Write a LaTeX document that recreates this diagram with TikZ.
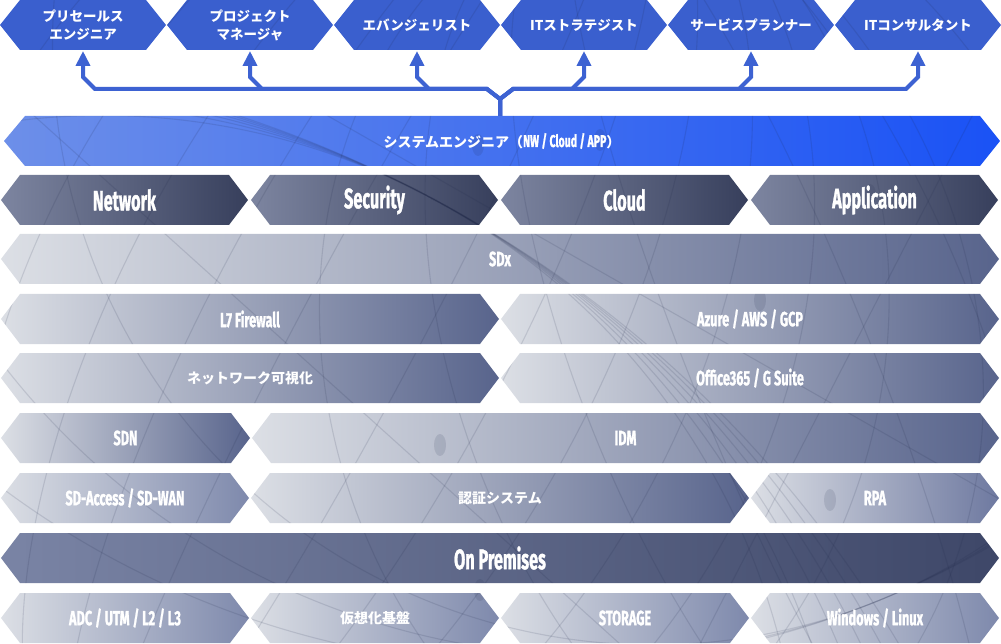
\documentclass[tikz,border=0pt]{standalone}
\usepackage{fontspec}
\usetikzlibrary{arrows.meta}
\newfontfamily\jp{Noto Sans CJK JP}
\newfontfamily\cond{Fira Sans}[BoldFeatures={FakeBold=1.6}]
\definecolor{topblue}{HTML}{3A5FCE}
\definecolor{arrowblue}{HTML}{3D62D2}
\definecolor{seL}{HTML}{6D8FE9}
\definecolor{seR}{HTML}{1A52F5}
\definecolor{catL}{HTML}{7D85A0}
\definecolor{catR}{HTML}{373F5C}
\definecolor{lt}{HTML}{DCDFE5}
\definecolor{dkA}{HTML}{58648C}
\definecolor{dkB}{HTML}{6E79A0}
\definecolor{dkC}{HTML}{7E89AC}
\definecolor{opL}{HTML}{7A84A5}
\definecolor{opR}{HTML}{3E4768}
\definecolor{patc}{HTML}{1C2546}
\pgfdeclarelayer{back}
\pgfdeclarelayer{mid}
\pgfsetlayers{back,mid,main}
\newcommand\hdtxt[1]{\scalebox{0.58}[1]{\cond\bfseries\fontsize{28}{30}\selectfont #1}}
\newcommand\smtxt[1]{\scalebox{0.62}[1]{\cond\bfseries\fontsize{20.5}{22}\selectfont #1}}
\newcommand\jptxt[1]{{\jp\bfseries\fontsize{14}{16}\selectfont #1}}
% hexagon outline: x1, x2, ytop, depth
\newcommand\hx[4]{(#1,#3+25) -- (#1+#4,#3) -- (#2-#4,#3) -- (#2,#3+25) -- (#2-#4,#3+50) -- (#1+#4,#3+50) -- cycle}
% top hexagon: name, x1, x2, text
\newcommand\tophex[4]{%
  \begin{pgfonlayer}{back}\fill[topblue] \hx{#2}{#3}{0}{20};\end{pgfonlayer}
  \node[toplab] (#1) at ({(#2+#3)/2},25) {#4};}
% row hexagon: name, x1, x2, ytop, left colour, right colour, text
\newcommand\rowhex[7]{%
  \begin{pgfonlayer}{back}\shade[left color=#5,right color=#6] \hx{#2}{#3}{#4}{19};\end{pgfonlayer}
  \node[lab] (#1) at ({(#2+#3)/2},#4+25) {#7};}
\begin{document}
\begin{tikzpicture}[x=1pt,y=-1pt,
  toplab/.style={text=white,font=\jp\bfseries\fontsize{13.5}{18}\selectfont,align=center,inner sep=0pt},
  lab/.style={text=white,inner sep=0pt},
  bus/.style={draw=arrowblue,line width=4pt,line join=miter},
  tip/.style={-{Triangle[width=14pt,length=15pt]}},
  pat/.style={draw=patc,draw opacity=0.13,line width=1.1pt}]
\useasboundingbox (0,0) rectangle (1001,644);
% top boxes
\tophex{t1}{0}{166}{プリセールス\\エンジニア}
\tophex{t2}{167}{333}{プロジェクト\\マネージャ}
\tophex{t3}{334}{500}{エバンジェリスト}
\tophex{t4}{501}{667}{ITストラテジスト}
\tophex{t5}{668}{834}{サービスプランナー}
\tophex{t6}{835}{1001}{ITコンサルタント}
% system engineer bar
\begin{pgfonlayer}{back}
\shade[left color=seL,right color=seR] (4,141) -- (25,116) -- (980,116) -- (1000,141) -- (980,166) -- (25,166) -- cycle;
\end{pgfonlayer}
\node[lab] (se) at (502,141) {\jptxt{\fontsize{14}{16}\selectfont システムエンジニア（}\raisebox{0.3pt}{\scalebox{0.62}[1]{\cond\bfseries\fontsize{17}{18}\selectfont NW / Cloud / APP}}\jptxt{\fontsize{14}{16}\selectfont ）}};
\coordinate (hub) at (500,116);
% connectors
\draw[bus,tip] (hub) -- (500,99) -- (487,89) -- (95,89) -- (83,77) -- (t1.center |- 0,51);
\draw[bus,tip] (hub) -- (500,99) -- (487,89) -- (262,89) -- (250,77) -- (t2.center |- 0,51);
\draw[bus,tip] (hub) -- (500,99) -- (487,89) -- (429,89) -- (417,77) -- (t3.center |- 0,51);
\draw[bus,tip] (hub) -- (500,99) -- (513,89) -- (572,89) -- (584,77) -- (t4.center |- 0,51);
\draw[bus,tip] (hub) -- (500,99) -- (513,89) -- (739,89) -- (751,77) -- (t5.center |- 0,51);
\draw[bus,tip] (hub) -- (500,99) -- (513,89) -- (906,89) -- (918,77) -- (t6.center |- 0,51);
% categories
\rowhex{nw}{1}{248}{175}{catL}{catR}{\hdtxt{Network}}
\rowhex{sec}{251}{498}{175}{catL}{catR}{\hdtxt{Security}}
\rowhex{cl}{501}{748}{175}{catL}{catR}{\hdtxt{Cloud}}
\rowhex{app}{751}{998}{175}{catL}{catR}{\hdtxt{Application}}
% rows
\rowhex{sdx}{1}{999}{234}{lt}{dkA}{\smtxt{SDx}}
\rowhex{l7}{1}{499}{294}{lt}{dkA}{\smtxt{L7 Firewall}}
\rowhex{az}{501}{999}{294}{lt}{dkA}{\smtxt{Azure / AWS / GCP}}
\rowhex{vis}{1}{499}{353}{lt}{dkA}{\jptxt{ネットワーク可視化}}
\rowhex{o365}{501}{999}{353}{lt}{dkA}{\smtxt{Office365 / G Suite}}
\rowhex{sdn}{1}{250}{413}{lt}{dkA}{\smtxt{SDN}}
\rowhex{idm}{252}{999}{413}{lt}{dkA}{\smtxt{IDM}}
\rowhex{sda}{1}{249}{473}{lt}{dkC}{\smtxt{SD-Access / SD-WAN}}
\rowhex{auth}{251}{749}{473}{lt}{dkA}{\jptxt{認証システム}}
\rowhex{rpa}{751}{999}{473}{lt}{dkB}{\smtxt{RPA}}
\rowhex{onp}{1}{999}{533}{opL}{opR}{\hdtxt{On Premises}}
\rowhex{adc}{1}{249}{593}{lt}{dkC}{\smtxt{ADC / UTM / L2 / L3}}
\rowhex{virt}{251}{499}{593}{lt}{dkC}{\jptxt{仮想化基盤}}
\rowhex{sto}{501}{749}{593}{lt}{dkC}{\smtxt{STORAGE}}
\rowhex{win}{751}{999}{593}{lt}{dkC}{\smtxt{Windows / Linux}}
% faint globe wireframe inside the shapes
\begin{pgfonlayer}{mid}
\begin{scope}
\clip \hx{0}{166}{0}{20} \hx{167}{333}{0}{20} \hx{334}{500}{0}{20} \hx{501}{667}{0}{20} \hx{668}{834}{0}{20} \hx{835}{1001}{0}{20}
  (4,141) -- (25,116) -- (980,116) -- (1000,141) -- (980,166) -- (25,166) -- cycle
  \hx{1}{248}{175}{19} \hx{251}{498}{175}{19} \hx{501}{748}{175}{19} \hx{751}{998}{175}{19}
  \hx{1}{999}{234}{19} \hx{1}{499}{294}{19} \hx{501}{999}{294}{19}
  \hx{1}{499}{353}{19} \hx{501}{999}{353}{19} \hx{1}{250}{413}{19} \hx{252}{999}{413}{19}
  \hx{1}{249}{473}{19} \hx{251}{749}{473}{19} \hx{751}{999}{473}{19}
  \hx{1}{999}{533}{19} \hx{1}{249}{593}{19} \hx{251}{499}{593}{19} \hx{501}{749}{593}{19} \hx{751}{999}{593}{19};
\begin{scope}[rotate around={-28:(360,330)}]
  \foreach \r in {60,150,240,330,420,520,640} {\draw[pat] (360,330) ellipse [x radius=\r, y radius=560];}
  \foreach \r in {700,800,900,1000,1100,1200} {\draw[pat] (360,330+\r-150) circle [radius=\r];}
\end{scope}
\begin{scope}[rotate around={22:(780,360)}]
  \foreach \r in {90,200,320,450} {\draw[pat] (780,360) ellipse [x radius=\r, y radius=520];}
  \foreach \r in {600,750,900} {\draw[pat] (780,360-\r+260) circle [radius=\r];}
\end{scope}
\draw[pat] (-50,40) -- (620,644);
\draw[pat] (300,100) -- (1001,500);
\draw[pat] (1001,60) -- (700,644);
\foreach \p in {(160,70),(478,145),(600,140),(870,195),(760,300),(1240,270),(440,445),(830,500),(480,590)}
  {\fill[patc,opacity=0.12] \p ellipse [x radius=6, y radius=11];}
\end{scope}
\end{pgfonlayer}
\end{tikzpicture}
\end{document}
